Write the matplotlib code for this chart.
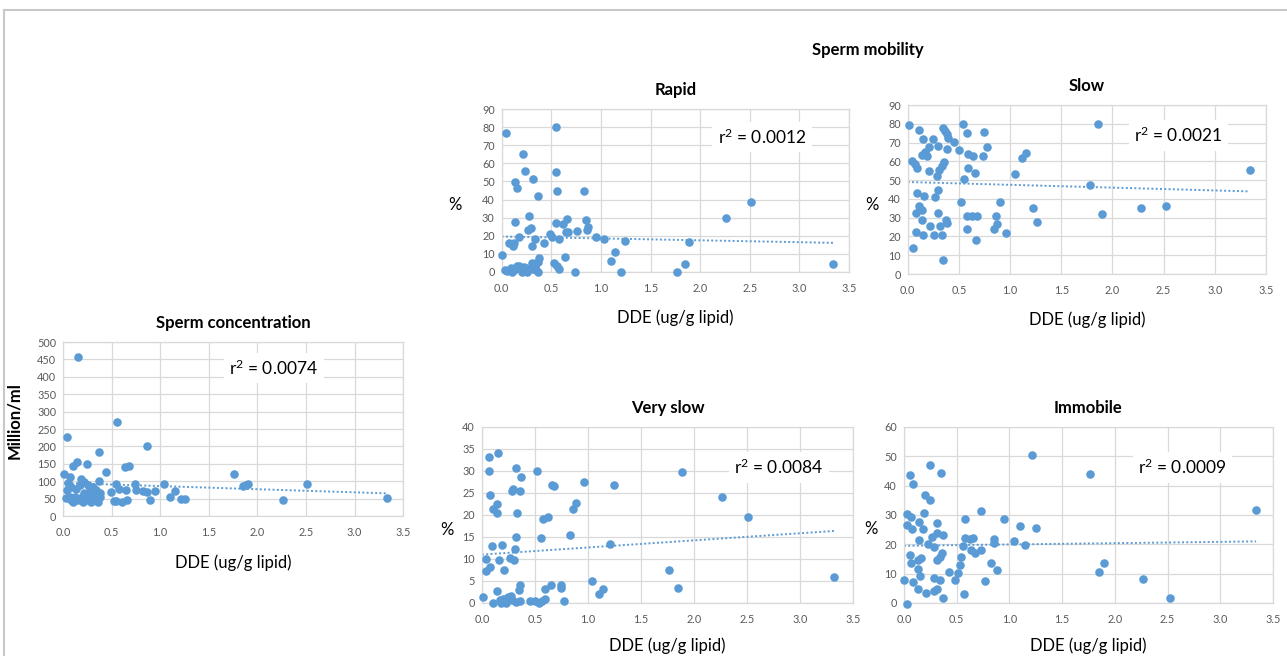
import matplotlib
matplotlib.use('Agg')
import matplotlib.pyplot as plt
from matplotlib.lines import Line2D
import numpy as np

plt.rcParams['font.family'] = ['Lato', 'DejaVu Sans']

# ---- data ----
rapid_x = [0.04, 0.55, 0.21, 0.24, 0.32, 0.55, 0.13, 0.15, 0.37, 0.56, 0.83, 0.28, 0.13, 0.30, 0.27,
           0.55, 0.62, 0.66, 0.85, 0.87, 0.86, 0.76, 0.65, 0.67, 0.49, 0.51, 0.58, 0.34, 0.17, 0.43,
           0.07, 0.11, 0.12, 0.31, 0.95, 1.03, 1.24, 1.14, 1.10, 1.89, 2.26, 2.51, 3.34, 1.85, 1.77,
           1.20, 0.74, 0.00, 0.64, 0.53, 0.56, 0.58, 0.03, 0.07, 0.10, 0.12, 0.15, 0.18, 0.20, 0.23,
           0.26, 0.29, 0.31, 0.34, 0.35, 0.37, 0.37, 0.38, 0.35, 0.32, 0.17, 0.09, 0.05, 0.22, 0.25]
rapid_y = [77, 80, 65.5, 56, 51.5, 55.5, 49.5, 46.5, 42, 45, 45, 31, 27.5, 24, 23,
           27, 26.5, 29, 28.5, 25, 23, 22.5, 22, 22, 21, 19, 18, 18, 19.5, 16,
           16, 14.5, 16, 14, 19, 18, 17, 11, 6, 16.5, 30, 38.5, 4.5, 4, 0,
           0, 0, 9, 8, 5, 3, 1.5, 0.7, 1, 0, 1, 3, 2, 0, 1,
           0, 1.3, 4.6, 2.8, 1, 0, 5.5, 7.4, 5, 1.3, 3.1, 1.8, 0.4, 2.8, 1.8]

slow_x = [0.01, 0.54, 1.86, 0.11, 0.34, 0.36, 0.38, 0.39, 0.58, 0.75, 0.15, 0.25, 0.45, 0.30, 0.21,
          0.38, 0.50, 0.77, 0.17, 0.14, 0.19, 0.59, 0.64, 0.74, 1.16, 1.12, 0.04, 0.07, 0.09, 0.35,
          0.33, 0.31, 0.21, 0.59, 0.66, 0.29, 0.55, 1.05, 3.34, 1.78, 0.09, 0.30, 0.16, 0.27, 0.52,
          0.90, 0.11, 0.14, 1.22, 2.28, 2.52, 0.08, 0.30, 0.58, 0.63, 0.68, 0.86, 1.90, 0.37, 0.14,
          0.38, 0.87, 1.26, 0.22, 0.32, 0.58, 0.84, 0.08, 0.96, 0.15, 0.26, 0.33, 0.67, 0.05, 0.34]
slow_y = [79.3, 79.8, 79.8, 76.8, 78, 76.2, 74.5, 72.7, 75, 75.4, 71.8, 71.8, 70.4, 68.4, 67.4,
          66.5, 65.8, 67.6, 65.2, 63.5, 62.9, 63.7, 62.9, 63.1, 64.4, 61.9, 60.3, 58.7, 56.6, 59.9,
          57.3, 55.5, 55.0, 56.4, 53.7, 52.3, 50.5, 53.2, 55.5, 47.2, 43.3, 44.5, 41.7, 40.8, 38.3,
          38.3, 36.3, 34.2, 35.1, 35.1, 36.0, 32.4, 32.3, 30.7, 30.7, 31.0, 30.7, 31.9, 28.9, 28.5,
          27.1, 26.8, 27.5, 25.7, 25.5, 24.1, 24.1, 22.5, 22.0, 20.7, 20.7, 20.7, 17.9, 13.7, 7.6]

conc_x = [0.15, 0.56, 0.04, 0.86, 0.37, 0.25, 0.14, 0.10, 0.44, 0.64, 0.68, 0.01, 1.76, 0.37, 0.18,
          0.07, 1.04, 2.51, 1.88, 1.85, 1.90, 0.54, 0.74, 1.15, 0.95, 0.82, 0.86, 0.75, 0.65, 0.58,
          0.49, 1.10, 1.21, 1.26, 0.89, 2.26, 3.33, 0.66, 0.61, 0.52, 0.55, 0.05, 0.08, 0.04, 0.13,
          0.17, 0.22, 0.26, 0.31, 0.34, 0.27, 0.22, 0.19, 0.15, 0.10, 0.03, 0.07, 0.12, 0.24, 0.29,
          0.33, 0.36, 0.38, 0.34, 0.38, 0.31, 0.26, 0.21, 0.08]
conc_y = [457, 271, 227, 202, 185, 150, 154, 144, 126, 141, 144, 120, 120, 102, 106,
          112, 93, 92, 88, 86, 93, 91, 91, 73, 73, 73, 70, 76, 75, 77,
          70, 54, 49, 49, 46, 46, 52, 45, 41, 44, 43, 96, 84, 75, 79,
          89, 98, 88, 84, 75, 70, 65, 55, 46, 41, 51, 55, 54, 46, 41,
          48, 41, 54, 60, 67, 55, 51, 41, 46]

vslow_x = [0.15, 0.07, 0.07, 0.32, 0.52, 1.89, 0.37, 0.96, 1.25, 0.66, 0.68, 0.29, 0.28, 0.36, 0.08,
           2.26, 0.14, 0.10, 0.33, 0.14, 0.89, 0.86, 0.62, 0.58, 2.51, 0.56, 0.32, 0.83, 1.21, 0.09,
           0.19, 0.31, 0.26, 0.30, 0.04, 0.16, 0.08, 0.04, 0.21, 1.76, 3.32, 1.04, 1.85, 1.14, 1.10,
           0.01, 0.14, 0.36, 0.35, 0.65, 0.75, 0.75, 0.59, 0.77, 0.10, 0.18, 0.21, 0.25, 0.28, 0.23,
           0.17, 0.32, 0.36, 0.45, 0.50, 0.54, 0.57, 0.59, 0.27, 0.20]
vslow_y = [34.1, 33.1, 30.0, 30.7, 30.0, 29.7, 28.7, 27.5, 26.9, 26.8, 26.5, 25.9, 25.4, 25.4, 24.6,
           24.1, 22.4, 21.3, 20.5, 20.4, 22.7, 21.3, 19.5, 19.0, 19.6, 14.7, 15.0, 15.4, 13.3, 13.0,
           13.2, 12.2, 10.3, 9.7, 10.0, 9.7, 8.1, 7.3, 7.6, 7.6, 5.9, 5.1, 3.3, 3.1, 2.1,
           1.3, 2.7, 4.2, 2.9, 4.2, 4.2, 3.3, 3.2, 0.4, 0, 0, 0.6, 1.4, 0.6, 0,
           0.6, 0.2, 0.5, 0.4, 0.4, 0, 0.4, 1.0, 1.7, 1.0]

immo_x = [1.21, 0.25, 0.35, 0.06, 1.76, 0.09, 0.20, 0.25, 0.73, 3.34, 0.03, 0.07, 0.19, 0.58, 0.95,
          0.14, 0.31, 0.03, 1.10, 1.25, 0.08, 0.18, 0.31, 0.37, 0.27, 0.58, 0.65, 0.63, 0.14, 0.85,
          0.85, 1.04, 0.23, 0.28, 1.15, 0.56, 0.64, 0.67, 0.73, 0.36, 0.34, 0.31, 0.06, 0.16, 0.13,
          0.07, 0.54, 0.53, 0.83, 1.90, 1.85, 0.13, 0.15, 0.88, 0.43, 0.51, 0.00, 0.09, 0.28, 0.34,
          0.48, 0.77, 2.27, 0.13, 0.21, 0.28, 0.31, 0.57, 0.37, 2.52, 0.03]
immo_y = [50.3, 47.1, 44.2, 43.6, 43.9, 40.4, 36.9, 35.1, 31.5, 31.6, 30.2, 29.4, 30.8, 28.7, 28.7,
          27.7, 27.4, 26.6, 26.2, 25.5, 25.2, 25.2, 23.9, 23.3, 22.6, 22.0, 22.3, 21.7, 21.4, 21.7,
          20.5, 21.3, 20.1, 19.2, 19.8, 19.6, 18.0, 17.2, 18.0, 16.9, 15.7, 14.6, 16.4, 15.3, 14.6,
          13.5, 15.7, 12.8, 13.6, 13.8, 10.6, 11.5, 9.3, 11.3, 10.7, 10.3, 7.9, 7.2, 8.4, 7.8,
          7.8, 7.5, 8.2, 4.7, 3.5, 4.1, 4.7, 3.2, 1.8, 1.6, -0.5]

# trend lines as read: (value at x=0, value at x=3.34)
rapid_trend = (19.5, 16.0)
slow_trend = (49.0, 44.0)
conc_trend = (95.0, 65.0)
vslow_trend = (11.0, 16.4)
immo_trend = (19.5, 21.0)

r2_labels = ['0.0012', '0.0021', '0.0074', '0.0084', '0.0009']

blue = '#5B9BD5'
grid = '#D9D9D9'
tick_col = '#595959'

fig = plt.figure(figsize=(12.87, 6.56), dpi=100)

def panel(rect, xs, ys, trend, ymax, ystep, title, r2, r2pos, ylabel, ylab_xy, xlab_pad,
          ylab_bold=False):
    ax = fig.add_axes(rect)
    ax.set_xlim(0, 3.5)
    ax.set_ylim(0, ymax)
    ax.set_xticks(np.arange(0, 3.51, 0.5))
    ax.set_yticks(np.arange(0, ymax + 0.1, ystep))
    ax.set_xticklabels([f'{v:.1f}' for v in np.arange(0, 3.51, 0.5)])
    ax.grid(True, color=grid, lw=0.9)
    ax.set_axisbelow(True)
    for s in ax.spines.values():
        s.set_color(grid)
        s.set_linewidth(0.9)
    ax.tick_params(length=0, labelsize=7.8, colors=tick_col)
    ax.tick_params(axis='x', pad=8)
    ax.tick_params(axis='y', pad=5)
    ax.scatter(xs, ys, s=38, color=blue, zorder=3, clip_on=False, linewidths=0)
    ax.plot([0, 3.34], trend, ls=(0, (1, 1.2)), color=blue, lw=1.4, zorder=2)
    ax.set_title(title, fontsize=12, fontweight='bold', pad=10)
    ax.set_xlabel('DDE (ug/g lipid)', fontsize=12, labelpad=xlab_pad)
    if ylab_bold:
        ax.set_ylabel(ylabel, fontsize=12, fontweight='bold')
    else:
        ax.set_ylabel(ylabel, fontsize=12, rotation=0, va='center', ha='center')
    ax.yaxis.set_label_coords(*ylab_xy)
    ax.text(r2pos[0], r2pos[1], r'$\mathregular{r^2}$ = ' + r2, transform=ax.transAxes,
            fontsize=12.5, ha='center', va='center', zorder=4,
            bbox=dict(facecolor='white', edgecolor='none', pad=4))
    return ax

panel([0.3898, 0.5858, 0.2699, 0.2476], rapid_x, rapid_y, rapid_trend, 90, 10,
      'Rapid', r2_labels[0], (0.75, 0.83), '%', (-0.135, 0.41), 11)
panel([0.7053, 0.5823, 0.2784, 0.2576], slow_x, slow_y, slow_trend, 90, 10,
      'Slow', r2_labels[1], (0.755, 0.82), '%', (-0.10, 0.41), 11)
panel([0.0490, 0.2134, 0.2642, 0.2652], conc_x, conc_y, conc_trend, 500, 50,
      'Sperm concentration', r2_labels[2], (0.62, 0.85), 'Million/ml', (-0.12, 0.55), 12,
      ylab_bold=True)
panel([0.3745, 0.0808, 0.2883, 0.2683], vslow_x, vslow_y, vslow_trend, 40, 5,
      'Very slow', r2_labels[3], (0.80, 0.77), '%', (-0.094, 0.415), 9)
panel([0.7024, 0.0808, 0.2867, 0.2683], immo_x, immo_y, immo_trend, 60, 10,
      'Immobile', r2_labels[4], (0.755, 0.77), '%', (-0.089, 0.42), 9)

fig.text(868 / 1287, 1 - 50 / 656, 'Sperm mobility', fontsize=12, fontweight='bold',
         ha='center', va='center')

# light frame around the figure (top and left edge)
fig.add_artist(Line2D([4 / 1287, 1], [1 - 10 / 656, 1 - 10 / 656], color='#C8C8C8', lw=1.5,
                      transform=fig.transFigure))
fig.add_artist(Line2D([4 / 1287, 4 / 1287], [0, 1 - 10 / 656], color='#C8C8C8', lw=1.5,
                      transform=fig.transFigure))

fig.savefig('out.png', dpi=100)
